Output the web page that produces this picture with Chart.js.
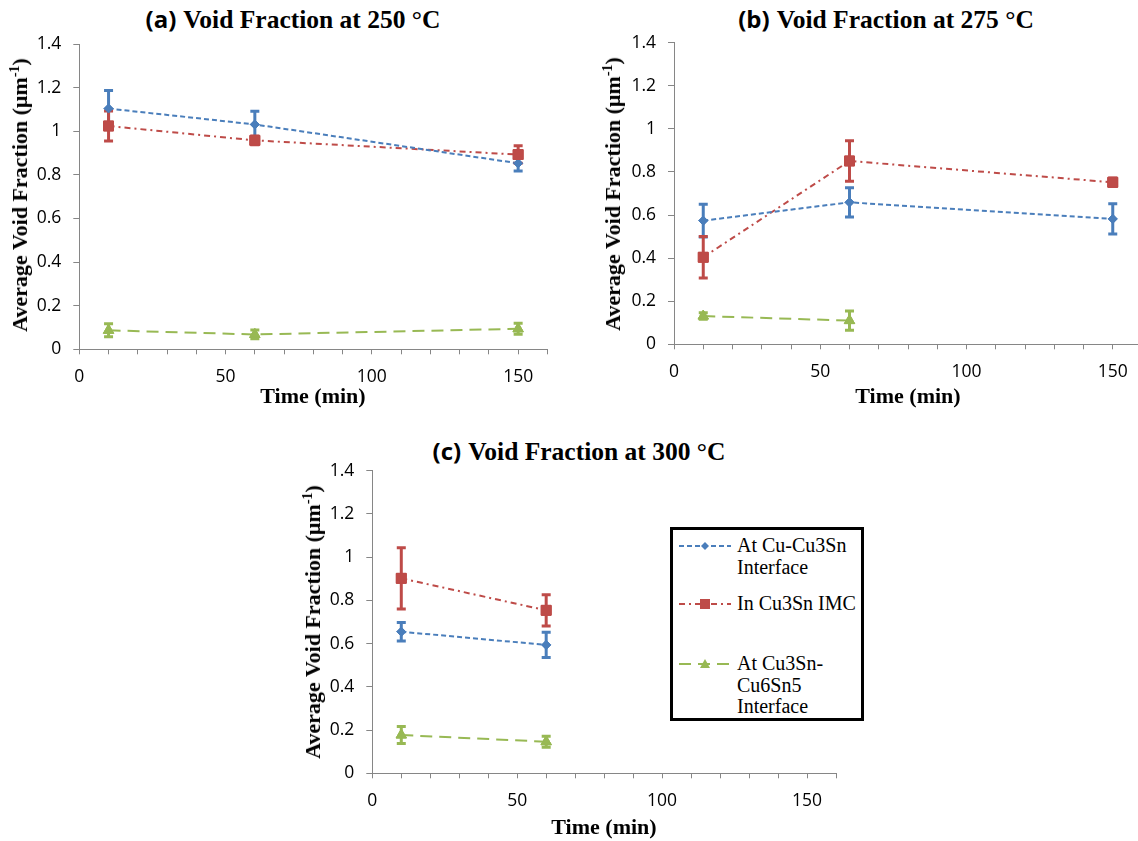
<!DOCTYPE html>
<html>
<head>
<meta charset="utf-8">
<script src="https://cdn.jsdelivr.net/npm/chart.js@4.4.1/dist/chart.umd.min.js"></script>
<style>
body { margin: 0; width: 1138px; height: 841px; overflow: hidden; background: #fff; position: relative; }
canvas { position: absolute; }
.title { position: absolute; font: bold 25.5px 'Liberation Serif', serif; line-height: 26px; white-space: nowrap; transform: translateX(-50%); color: #000; }
.title span { font-family: 'Open Sans', sans-serif; font-size: 24px; margin-right: 7px; }
.xt { position: absolute; font: bold 22px 'Liberation Serif', serif; line-height: 22px; white-space: nowrap; transform: translateX(-50%); }
.yt { position: absolute; font: bold 22px 'Liberation Serif', serif; line-height: 22px; white-space: nowrap; transform: translate(-50%, -50%) rotate(-90deg); }
.yt sup { font-size: 14px; vertical-align: 8px; line-height: 0; }
#legend { position: absolute; left: 670px; top: 527px; width: 194px; height: 194px; box-sizing: border-box; border: 3px solid #000; background: #fff; }
.entry { position: absolute; left: 6px; font: 20px 'Liberation Serif', serif; line-height: 21.5px; }
.entry svg { position: absolute; left: 0; top: 4px; }
.entry div { position: absolute; left: 58px; top: 0; white-space: nowrap; }
</style>
</head>
<body>

<div class="title" style="left:293px;top:6px"><span>(a)</span>Void Fraction at 250 °C</div>
<div class="title" style="left:886px;top:6px"><span>(b)</span>Void Fraction at 275 °C</div>
<div class="title" style="left:579px;top:438px"><span>(c)</span>Void Fraction at 300 °C</div>

<canvas id="chartA" width="570" height="420" style="left:0;top:0"></canvas>
<canvas id="chartB" width="570" height="420" style="left:590px;top:0"></canvas>
<canvas id="chartC" width="570" height="420" style="left:290px;top:420px"></canvas>

<div class="xt" style="left:313px;top:385px">Time (min)</div>
<div class="xt" style="left:908px;top:385px">Time (min)</div>
<div class="xt" style="left:604px;top:816px">Time (min)</div>

<div class="yt" style="left:20px;top:195px">Average Void Fraction (μm<sup>-1</sup>)</div>
<div class="yt" style="left:613px;top:194px">Average Void Fraction (μm<sup>-1</sup>)</div>
<div class="yt" style="left:313px;top:622px">Average Void Fraction (μm<sup>-1</sup>)</div>

<div id="legend">
  <div class="entry" style="top:5px">
    <svg width="54" height="14"><line x1="0" y1="7" x2="52" y2="7" stroke="#4a7ebb" stroke-width="2" stroke-dasharray="5 3"/><polygon points="26,3 30,7 26,11 22,7" fill="#4a7ebb"/></svg>
    <div>At Cu-Cu3Sn<br>Interface</div>
  </div>
  <div class="entry" style="top:63px">
    <svg width="54" height="14"><line x1="0" y1="7" x2="52" y2="7" stroke="#be4b48" stroke-width="2" stroke-dasharray="6 4 2 4"/><rect x="21" y="2" width="10" height="10" fill="#be4b48"/></svg>
    <div>In Cu3Sn IMC</div>
  </div>
  <div class="entry" style="top:123px">
    <svg width="54" height="14"><line x1="0" y1="7" x2="52" y2="7" stroke="#98b954" stroke-width="2" stroke-dasharray="12 7"/><polygon points="26,2 31,11 21,11" fill="#98b954"/></svg>
    <div>At Cu3Sn-<br>Cu6Sn5<br>Interface</div>
  </div>
</div>

<script>
// ---- data ----
const times = [10, 60, 150];
const seriesNames = ['At Cu-Cu3Sn Interface', 'In Cu3Sn IMC', 'At Cu3Sn-Cu6Sn5 Interface'];
const yTicks = [0, 0.2, 0.4, 0.6, 0.8, 1, 1.2, 1.4];
const xLabelTicks = [0, 50, 100, 150];

// 250 °C
const cuCu3Sn250 = [1.104, 1.031, 0.853];
const cuCu3Sn250Err = [0.083, 0.061, 0.035];
const imc250 = [1.024, 0.958, 0.893];
const imc250Err = [0.069, 0.02, 0.04];
const cu6Sn5_250 = [0.087, 0.068, 0.094];
const cu6Sn5_250Err = [0.03, 0.02, 0.025];

// 275 °C
const cuCu3Sn275 = [0.574, 0.659, 0.582];
const cuCu3Sn275Err = [0.076, 0.068, 0.07];
const imc275 = [0.404, 0.851, 0.752];
const imc275Err = [0.096, 0.094, 0.02];
const cu6Sn5_275 = [0.131, 0.11];
const cu6Sn5_275Err = [0.015, 0.045];

// 300 °C
const cuCu3Sn300 = [0.655, 0.594];
const cuCu3Sn300Err = [0.043, 0.058];
const imc300 = [0.902, 0.754];
const imc300Err = [0.142, 0.072];
const cu6Sn5_300 = [0.177, 0.146];
const cu6Sn5_300Err = [0.039, 0.025];

// ---- styles ----
const BLUE = '#4a7ebb', RED = '#be4b48', GREEN = '#98b954', AXIS = '#868686';
const seriesStyle = [
    { color: BLUE, dash: [5, 3], point: 'rectRot', radius: 4.5 },
    { color: RED, dash: [6, 4, 2, 4], point: 'rect', radius: 7 },
    { color: GREEN, dash: [12, 7], point: 'triangle', radius: 6 }
];

// error bars drawn from the dataset's errors array
const errorBars = {
    id: 'errorBars',
    afterDatasetsDraw(chart) {
        const { ctx, scales: { x, y } } = chart;
        chart.data.datasets.forEach(ds => {
            ctx.save();
            ctx.strokeStyle = ds.borderColor;
            ctx.lineWidth = 3;
            ds.data.forEach((p, j) => {
                const e = ds.errors[j];
                const px = x.getPixelForValue(p.x);
                const top = y.getPixelForValue(p.y + e);
                const bot = y.getPixelForValue(p.y - e);
                ctx.beginPath();
                ctx.moveTo(px, top); ctx.lineTo(px, bot);
                ctx.moveTo(px - 4.5, top); ctx.lineTo(px + 4.5, top);
                ctx.moveTo(px - 4.5, bot); ctx.lineTo(px + 4.5, bot);
                ctx.stroke();
            });
            ctx.restore();
        });
        // markers on top of the bars
        chart.data.datasets.forEach((ds, i) => {
            const meta = chart.getDatasetMeta(i);
            meta.data.forEach(pt => pt.draw(ctx, chart.chartArea));
        });
    }
};

function makeDataset(i, vals, errs) {
    const s = seriesStyle[i];
    return {
        label: seriesNames[i],
        data: vals.map((v, j) => ({ x: times[j], y: v })),
        errors: errs,
        borderColor: s.color,
        backgroundColor: s.color,
        borderWidth: 2,
        borderDash: s.dash,
        pointStyle: s.point,
        pointRadius: s.radius,
        pointBorderWidth: 1,
        pointBorderColor: s.color,
        pointBackgroundColor: s.color,
        tension: 0
    };
}

function makeChart(id, area, sets) {
    const cv = document.getElementById(id);
    const w = cv.width, h = cv.height;
    const xH = 50;
    return new Chart(cv, {
        type: 'line',
        data: { datasets: sets },
        plugins: [errorBars],
        options: {
            responsive: false,
            animation: false,
            devicePixelRatio: 1,
            layout: { padding: { left: 0, top: area.t, right: w - area.r, bottom: h - area.b - xH } },
            plugins: { legend: { display: false }, tooltip: { enabled: false } },
            scales: {
                x: {
                    type: 'linear', min: 0, max: 160,
                    afterFit: s => { s.height = xH; },
                    afterBuildTicks: s => { s.ticks = []; for (let v = 0; v <= 160; v += 10) s.ticks.push({ value: v }); },
                    ticks: {
                        color: '#000', font: { family: 'Open Sans', size: 17.5 }, padding: 12, maxRotation: 0,
                        autoSkip: false,
                        callback: v => xLabelTicks.includes(v) ? String(v) : ''
                    },
                    grid: { drawOnChartArea: false, drawTicks: true, tickLength: 5, color: AXIS },
                    border: { color: AXIS, width: 1 }
                },
                y: {
                    type: 'linear', min: 0, max: 1.4,
                    afterFit: s => { s.width = area.l; },
                    afterBuildTicks: s => { s.ticks = yTicks.map(v => ({ value: v })); },
                    ticks: {
                        color: '#000', font: { family: 'Open Sans', size: 17.5 }, padding: 12,
                        callback: v => String(Number(v.toFixed(1)))
                    },
                    grid: { drawOnChartArea: false, drawTicks: true, tickLength: 6, color: AXIS },
                    border: { color: AXIS, width: 1 }
                }
            }
        }
    });
}

// chart areas relative to each canvas
makeChart('chartA', { l: 79.3, t: 44, r: 547.4, b: 349.3 }, [
    makeDataset(0, cuCu3Sn250, cuCu3Sn250Err),
    makeDataset(1, imc250, imc250Err),
    makeDataset(2, cu6Sn5_250, cu6Sn5_250Err)
]);
makeChart('chartB', { l: 84, t: 42.7, r: 552, b: 344.3 }, [
    makeDataset(0, cuCu3Sn275, cuCu3Sn275Err),
    makeDataset(1, imc275, imc275Err),
    makeDataset(2, cu6Sn5_275, cu6Sn5_275Err)
]);
makeChart('chartC', { l: 82.3, t: 50.7, r: 546, b: 353.3 }, [
    makeDataset(0, cuCu3Sn300, cuCu3Sn300Err),
    makeDataset(1, imc300, imc300Err),
    makeDataset(2, cu6Sn5_300, cu6Sn5_300Err)
]);
</script>
</body>
</html>
